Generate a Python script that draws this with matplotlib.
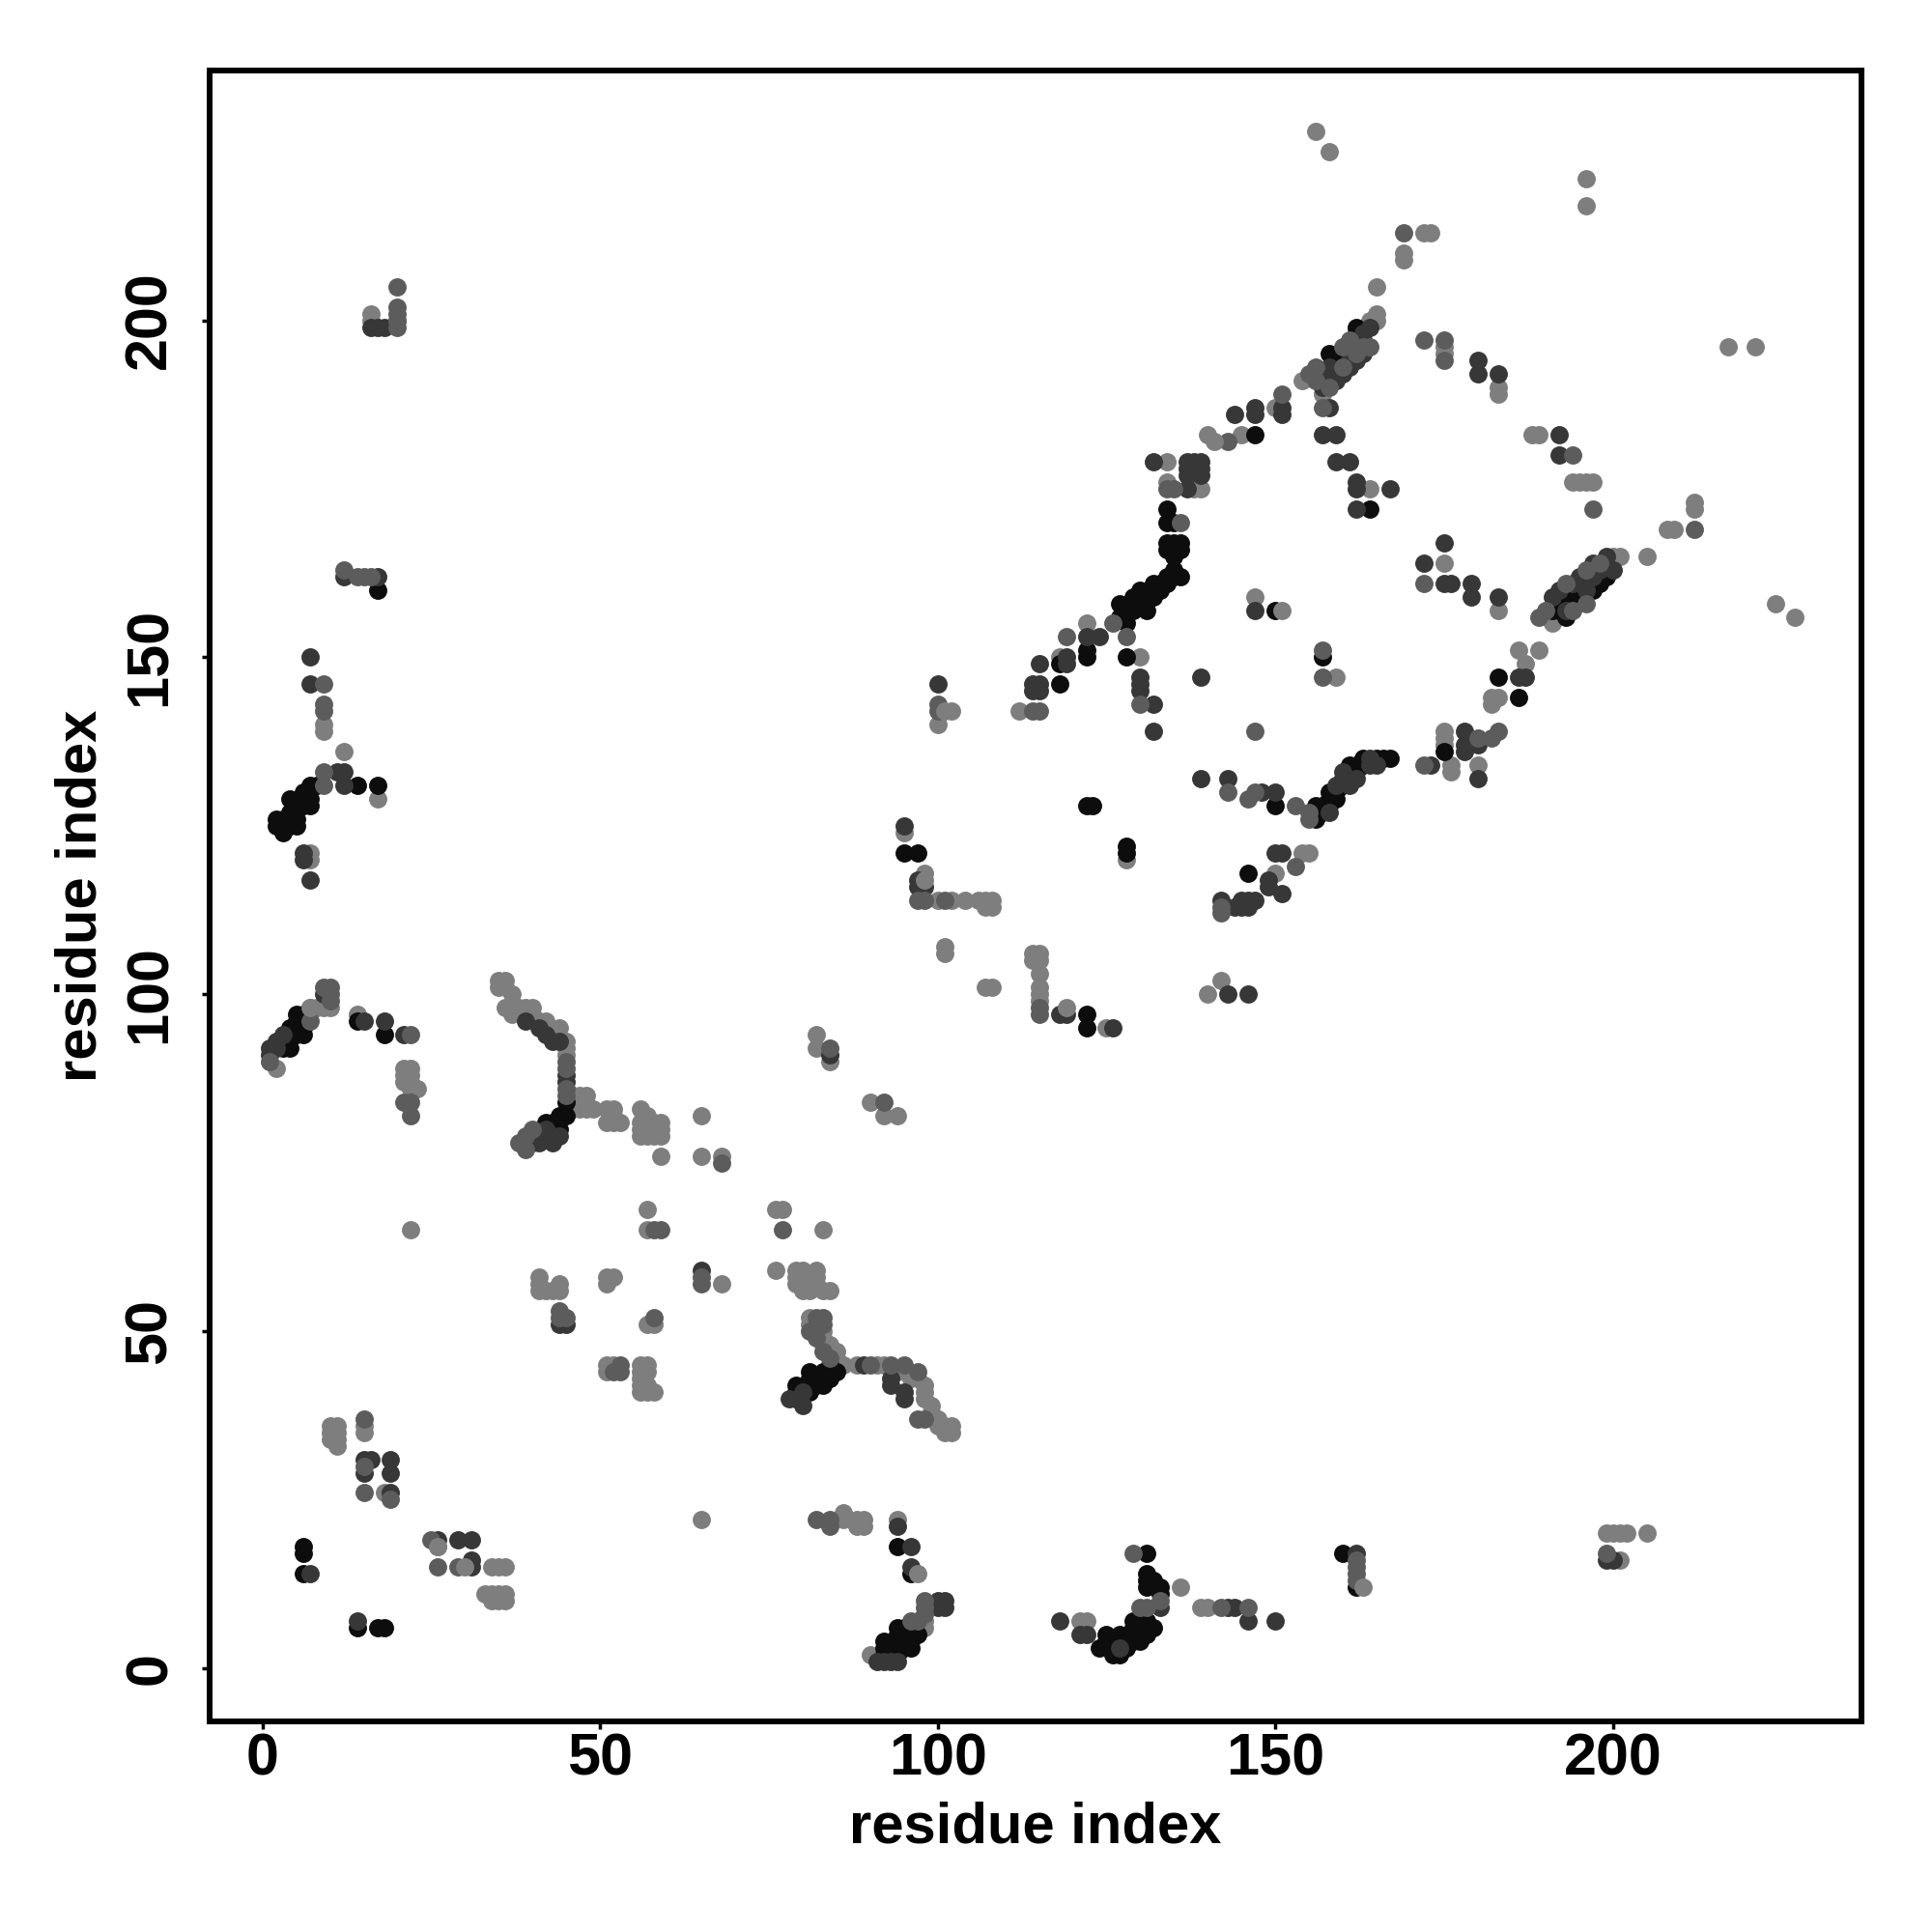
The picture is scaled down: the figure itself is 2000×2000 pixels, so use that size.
import matplotlib
matplotlib.use('Agg')
import matplotlib.pyplot as plt

plt.rcParams['font.family'] = ['Liberation Sans', 'DejaVu Sans']
plt.rcParams['font.weight'] = 'bold'

# contacts as (i, j), one list per grey level
light_pts = [(10,36),(11,36),(10,35),(11,35),(10,34),(11,34),(11,33),(15,36),(15,35),(18,26),(26,18),
    (34,15),(35,15),(36,15),(33,11),(34,11),(35,11),(36,11),(34,10),(35,10),(36,10),(22,65),(16,200),(16,201),
    (2,89),(7,98),(8,98),(9,98),(10,98),(14,97),(21,89),(22,89),(21,88),(22,88),(21,87),(22,87),(23,86),(22,86),
    (35,102),(36,102),(35,101),(36,101),(37,100),(36,98),(37,98),(37,97),(38,98),(39,98),(40,98),(40,97),(41,96),
    (42,96),(44,95),(45,93),(45,92),(45,91),(46,85),(47,85),(48,85),(46,83),(47,83),(48,83),(49,83),(51,83),(52,83),
    (51,81),(52,81),(52,82),(53,81),(56,83),(56,81),(56,80),(56,79),(57,82),(57,81),(57,80),(57,79),(58,79),(58,81),
    (59,81),(59,79),(59,80),(59,76),(65,82),(65,76),(68,76),(82,94),(82,92),(84,90),(90,84),(92,82),(94,82),
    (57,68),(57,65),(76,68),(77,68),(83,65),(76,59),(79,59),(80,59),(82,59),(79,57),(79,58),(80,57),(80,56),(81,56),
    (82,57),(81,58),(82,58),(83,56),(84,56),(68,57),(41,58),(41,57),(41,56),(42,56),(43,56),(44,56),(44,57),(51,58),
    (52,58),(51,57),(57,51),(58,51),(51,45),(52,45),(51,44),(56,45),(57,45),(56,44),(57,44),(56,43),(56,42),(56,41),
    (57,41),(58,41),(57,42),(81,52),(81,51),(83,50),(83,49),(83,48),(84,48),(85,47),(85,46),(86,45),(88,45),(91,45),
    (92,45),(94,44),(95,44),(96,43),(97,43),(98,42),(98,41),(98,40),(99,39),(99,38),(100,37),(100,36),(101,35),(102,35),
    (101,36),(102,36),(86,23),(86,22),(88,22),(88,21),(89,22),(89,21),(65,22),(94,22),(90,2),(98,7),(98,6),
    (121,7),(122,7),(136,12),(139,9),(140,9),(199,20),(200,20),(201,20),(202,20),(205,20),(201,16),
    (95,124),(98,118),(100,114),(102,114),(104,114),(106,114),(107,114),(107,113),(108,114),(108,113),
    (101,107),(101,106),(107,101),(108,101),(114,106),(115,106),(114,105),(115,105),(115,103),(115,101),(115,100),
    (115,99),(125,95),(100,140),(102,142),(112,142),(118,150),(156,228),(158,225),(196,221),(196,217),
    (172,213),(173,213),(169,210),(169,209),(165,205),(165,201),(165,200),(164,200),(154,191),(157,189),(175,196),
    (175,195),(183,190),(183,189),(188,183),(189,183),(194,176),(195,176),(196,176),(197,176),(212,173),(212,172),
    (208,169),(209,169),(217,196),(221,196),(205,165),(224,158),(227,156),(122,155),(134,179),(138,175),(139,175),
    (134,176),(140,183),(145,183),(150,187),(147,159),(159,147),(186,151),(187,149),(189,151),(182,144),
    (183,144),(182,143),(175,139),(175,138),(175,137),(176,134),(176,133),(180,134),(154,121),(155,121),(150,118),
    (191,155),(201,165),(200,165),(175,164),(183,157),(140,100),(142,102),(12,136),(9,140),(9,139),(17,129),(7,121),(7,120),
    (128,120),(130,150),(164,175)]

# lighter points that sit over their darker neighbours
top_pts = [(97,14),(30,15),(98,117),(101,142),(119,98),(141,182),(163,12),(7,98),(26,18),(151,157)]

mid_pts = [(15,37),(15,30),(15,26),(19,25),(25,19),(26,15),(29,15),(20,205),(20,202),(20,201),(20,200),(20,199),
    (1,90),(7,96),(9,101),(10,101),(21,84),(22,84),(22,82),(22,94),(38,78),(39,77),(39,79),(40,80),(45,90),(45,89),
    (45,86),(45,85),(68,75),(84,92),(92,84),(58,65),(59,65),(77,65),(65,58),(65,57),(44,53),(44,52),(45,52),(58,52),
    (53,45),(52,44),(53,44),(81,50),(82,52),(83,52),(83,51),(82,49),(83,47),(84,46),(90,45),(93,45),(95,45),(82,22),
    (84,22),(84,21),(97,44),(97,37),(98,37),(98,10),(98,9),(98,8),(97,7),(96,7),(129,17),(130,9),(131,9),(133,10),
    (142,9),(146,9),(162,16),(162,15),(162,14),(162,13),(199,17),(97,114),(98,114),(101,114),(115,98),(115,97),
    (100,143),(100,142),(114,142),(115,142),(119,153),(126,155),(155,192),(156,193),(156,191),(157,187),(164,196),(169,213),
    (172,197),(175,197),(175,194),(194,180),(197,172),(212,169),(147,139),(153,128),(153,119),(172,134),(172,161),(142,113),
    (142,112),(128,153),(130,143),(135,175),(134,175),(143,182),(151,189),(157,151),(157,147),(147,130),
    (9,146),(9,143),(9,142),(9,133),(9,131),(12,163),(14,162),(15,162),(16,162),(20,200),(180,138),(182,138),(183,139),(161,197),
    (146,129),(143,130),(10,100),(10,99),(136,170),(155,127),(155,126),(158,190),(160,193),(162,195),(163,196),(160,196),
    (189,156),(190,157),(193,161),(196,163),(198,164),(196,158),(194,157)]

dark_pts = [(15,31),(16,31),(15,29),(19,31),(19,29),(19,26),(26,19),(29,19),(31,19),(31,16),(31,15),(7,14),(14,7),
    (16,199),(17,199),(18,199),(1,92),(1,91),(2,93),(2,92),(3,94),(9,100),(15,96),(18,96),(21,94),
    (39,96),(41,95),(42,94),(43,93),(44,93),(45,88),(45,87),(40,78),(41,79),(41,78),(43,78),(44,79),(42,80),(43,79),
    (65,59),(84,91),(44,51),(45,51),(78,40),(80,39),(80,41),(93,43),(93,42),(95,41),(95,40),(89,45),(94,21),(96,18),
    (96,15),(101,10),(101,9),(100,10),(100,9),(91,1),(92,1),(93,1),(94,1),(118,7),(121,5),(122,5),(127,3),(133,9),(143,9),
    (144,9),(146,7),(150,7),(162,17),(199,16),(200,16),(95,125),(97,117),(97,116),(98,116),(118,97),(119,97),(126,95),
    (100,146),(114,146),(115,146),(114,145),(115,145),(115,149),(119,149),(119,150),(122,153),(124,153),(7,150),(7,146),
    (11,133),(12,133),(12,131),(12,162),(17,162),(6,121),(6,120),(7,117),(157,183),(158,187),(159,183),(159,179),(161,179),(162,176),
    (162,175),(167,175),(162,172),(180,194),(180,192),(183,192),(192,183),(192,180),(130,147),(130,146),(130,145),(132,143),
    (132,139),(139,147),(147,157),(132,179),(137,179),(138,179),(139,179),(137,175),(137,178),(137,177),(139,178),(139,177),
    (144,186),(147,187),(147,186),(151,187),(151,186),(187,147),(186,147),(178,139),(178,137),(178,136),(180,137),(180,132),
    (173,134),(139,132),(143,132),(148,130),(150,130),(150,121),(151,121),(151,115),(142,114),(146,114),(147,114),(145,113),
    (146,113),(144,113),(145,114),(175,167),(175,161),(176,161),(179,161),(179,159),(183,159),(172,164),(143,100),(146,100),(164,199),(163,198),
    (163,197),(158,192),(157,192),(157,190),(162,196),(149,117),(149,116),(199,165),(198,163),(197,164),(200,163),
    (159,191),(159,192),(160,192),(161,194),(161,193),(162,194),(163,195),(158,193),(157,191),(156,192),
    (160,133),(159,131),(158,127),(161,131),(162,132),(164,134),(164,135),(165,134),
    (191,159),(192,160),(194,161),(195,162),(197,162),(196,160),(193,157)]

black_pts = [(6,18),(6,17),(6,14),(14,6),(17,6),(18,6),(3,92),(4,92),(4,94),(4,95),(5,94),(5,97),(5,96),(6,94),(6,95),
    (6,97),(14,96),(18,94),(40,79),(42,81),(43,81),(44,82),(44,80),(45,84),(45,82),(79,42),(79,41),(79,40),(81,44),(81,43),
    (81,41),(82,43),(82,42),(83,42),(83,44),(84,45),(84,43),(85,44),(94,18),(96,14),(96,6),(97,5),(95,6),(95,5),(95,4),(94,6),
    (94,5),(94,4),(96,4),(96,3),(92,4),(92,3),(92,2),(94,2),(93,2),(95,3),(125,5),(125,4),(124,3),(126,4),(127,5),(127,2),
    (126,2),(126,3),(128,3),(129,4),(130,4),(129,7),(129,6),(130,7),(131,7),(131,6),(131,5),(132,6),(131,17),(131,14),
    (131,13),(131,12),(132,13),(133,12),(133,11),(160,17),(162,12),(95,121),(97,121),(122,97),(122,95),(122,128),(123,128),
    (128,122),(128,121),(118,146),(118,149),(122,151),(122,150),(128,150),(127,156),(127,158),(128,157),(128,155),(129,159),
    (129,157),(130,160),(130,158),(131,159),(131,157),(132,161),(132,159),(133,161),(133,160),(134,162),(134,161),(135,163),
    (135,162),(136,162),(134,172),(134,170),(135,170),(134,167),(135,167),(134,166),(135,166),(135,165),(136,167),(136,166),
    (147,183),(150,157),(157,150),(158,195),(159,194),(159,193),(160,195),(161,195),(162,199),(162,198),(164,172),
    (183,147),(186,144),(175,136),(167,135),(166,135),(165,135),(163,135),(163,134),(162,134),(161,134),(162,133),(160,131),
    (161,132),(161,133),(160,132),(159,129),(159,130),(158,130),(158,128),(158,129),(157,127),(157,128),(156,126),(156,128),
    (150,128),(146,118),(191,157),(192,158),(192,157),(193,159),(193,156),(194,160),(194,158),(195,159),(195,161),(196,162),
    (197,160),(198,161),(199,162),(2,126),(2,125),(3,126),(3,124),(4,127),(4,125),(5,128),(5,126),(4,129),(5,125),(6,130),
    (6,128),(7,131),(7,129),(7,128),(8,131),(14,131),(17,131),(17,160)]

ticks = [0, 50, 100, 150, 200]
tones = [('#7e7e7e', light_pts), ('#0d0d0d', black_pts), ('#373737', dark_pts), ('#5c5c5c', mid_pts), ('#7e7e7e', top_pts)]

fig = plt.figure(figsize=(20, 20), dpi=100)
ax = fig.add_axes([216.8/2000, 1-1782/2000, (1927-216.8)/2000, (1782-72.7)/2000])
for colour, pts in tones:
    ax.scatter([p[0] for p in pts], [p[1] for p in pts], s=185, c=colour, linewidths=0)

ax.set_xlim(-7.85, 236.8)
ax.set_ylim(-7.9, 237.1)
ax.set_xticks(ticks)
ax.set_yticks(ticks)
ax.tick_params(length=6, width=2.5, labelsize=44)
ax.tick_params(axis='x', pad=2)
ax.tick_params(axis='y', pad=17)
for t in ax.get_yticklabels():
    t.set_rotation(90)
    t.set_va('center')
for s in ax.spines.values():
    s.set_linewidth(4.3)
ax.set_xlabel('residue index', fontsize=43, fontweight='bold')
ax.set_ylabel('residue index', fontsize=43, fontweight='bold')
ax.xaxis.set_label_coords(0.5, -0.0485)
ax.yaxis.set_label_coords(-0.0613, 0.5)
fig.savefig('out.png', dpi=100)
